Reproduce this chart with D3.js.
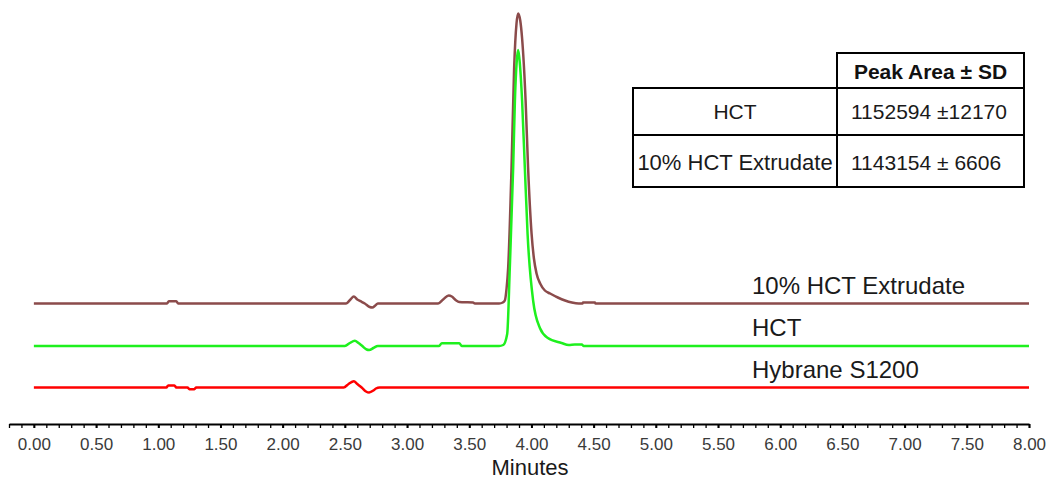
<!DOCTYPE html>
<html lang="en">
<head>
	<meta charset="UTF-8"/>
	<title>HPLC Chromatogram - HCT</title>
	<script src="https://d3js.org/d3.v7.min.js"></script>
	<style>
		body { margin:0; background:#fff; }
		text { font-family: "Liberation Sans", Arial, sans-serif; }
	</style>
</head>
<body>
<script>

	var w = 1048;
	var h = 482;

	//-------------data: [minutes, signal above own baseline]-------------
	var extrudate = [
		[0,0],[1.07,0],[1.085,2.3],[1.145,2.3],[1.16,0],
		[2.51,0],[2.545,4],[2.572,7],[2.60,4],[2.625,2.3],[2.66,0],[2.70,-3.5],[2.72,-4],[2.745,-2],[2.765,0],
		[3.25,0],[3.29,4],[3.335,8],[3.36,7],[3.395,3],[3.42,1.5],[3.45,1.3],[3.53,1],[3.545,0],
		[3.74,0],[3.77,1],[3.786,3],[3.80,15],[3.813,36],[3.84,136],[3.861,236],[3.88,280],[3.893,290],
		[3.91,283],[3.925,265],[3.953,203],[3.973,136],[4.001,70],[4.02,45],[4.041,30],[4.07,20],
		[4.108,13],[4.15,10],[4.212,6],[4.27,3],[4.325,1],[4.38,0],[4.41,0],[4.415,1],[4.51,1],[4.515,0],
		[8,0]
	];
	var hct = [
		[0,0],[2.50,0],[2.54,3],[2.58,5.3],[2.61,3],[2.64,0],[2.675,-3.5],[2.695,-4],[2.73,-2],[2.765,0],
		[3.255,0],[3.28,2.7],[3.42,2.7],[3.44,0],
		[3.74,0],[3.773,1],[3.805,12],[3.826,78],[3.853,178],[3.867,245],[3.882,285],[3.893,296],
		[3.905,285],[3.925,245],[3.947,178],[3.969,112],[4.014,45],[4.068,18],[4.132,8],[4.242,3],
		[4.30,1],[4.349,1.5],[4.405,1.5],[4.42,0],
		[8,0]
	];
	var hybrane = [
		[0,0],[1.065,0],[1.08,2],[1.13,2],[1.145,0],[1.235,0],[1.25,-1.7],[1.29,-1.7],[1.305,0],
		[2.49,0],[2.53,3.5],[2.572,6.3],[2.60,3.5],[2.635,0],[2.67,-4],[2.695,-5],[2.73,-3],[2.75,-1],[2.78,0],
		[8,0]
	];

	var seriesNames   = ["10% HCT Extrudate", "HCT", "Hybrane S1200"];
	var seriesData    = [extrudate, hct, hybrane];
	var seriesOffsets = [84, 41.5, 0];
	var seriesColors  = ["#8b4b4b", "#1ef01e", "#ff0000"];

	var majorTicks = [0,0.5,1,1.5,2,2.5,3,3.5,4,4.5,5,5.5,6,6.5,7,7.5,8];

	var tableHeader = "Peak Area \u00b1 SD";
	var tableNames  = ["HCT", "10% HCT Extrudate"];
	var tableValues = ["1152594 \u00b112170", "1143154 \u00b1 6606"];

	//-------------scales-------------
	var xScale = d3.scaleLinear()
				.domain([-0.2, 8])
				.range([9, 1029]);

	var yScale = d3.scaleLinear()
				.domain([0, 380])
				.range([387.5, 7.5]);

	var svg = d3.select("body")
				.append("svg")
				.attr("width", w)
				.attr("height", h);

	//-------------traces-------------
	seriesData.forEach(function(data, k){
		var line = d3.line()
			.x(function(d){ return xScale(d[0]); })
			.y(function(d){ return yScale(d[1] + seriesOffsets[k]); })
			.curve(d3.curveMonotoneX);

		svg.append("path")
			.datum(data)
			.attr("d", line)
			.attr("fill", "none")
			.attr("stroke", seriesColors[k])
			.attr("stroke-width", 2.5)
			.attr("stroke-linejoin", "round");

		svg.append("text")
			.attr("x", 752)
			.attr("y", yScale(seriesOffsets[k]) - 10)
			.attr("font-size", 24)
			.attr("fill", "#1a1a1a")
			.text(seriesNames[k]);
	});

	//-------------x axis-------------
	var axisY = 424;

	var minorAxis = d3.axisBottom(xScale)
			.tickValues(d3.range(-2, 81).map(function(i){ return i / 10; }))
			.tickSize(4)
			.tickSizeOuter(0)
			.tickFormat("");

	svg.append("g")
		.attr("transform", "translate(0," + axisY + ")")
		.call(minorAxis)
		.call(function(g){
			g.select(".domain").attr("stroke", "#000").attr("stroke-width", 2);
			g.selectAll(".tick line").attr("stroke", "#000").attr("stroke-width", 1.3);
		});

	var majorAxis = d3.axisBottom(xScale)
			.tickValues(majorTicks)
			.tickSize(4)
			.tickPadding(10)
			.tickFormat(d3.format(".2f"));

	svg.append("g")
		.attr("transform", "translate(0," + axisY + ")")
		.call(majorAxis)
		.call(function(g){
			g.select(".domain").remove();
			g.selectAll(".tick line").attr("stroke", "#000").attr("stroke-width", 2);
			g.selectAll(".tick text")
				.attr("font-size", 17)
				.attr("font-family", "Liberation Sans, Arial, sans-serif")
				.attr("fill", "#3a3a3a");
		});

	svg.append("text")
		.attr("x", 530)
		.attr("y", 475)
		.attr("text-anchor", "middle")
		.attr("font-size", 22)
		.attr("fill", "#1a1a1a")
		.text("Minutes");

	//-------------peak area table-------------
	var colX  = [633, 837, 1024];
	var rowY  = [53, 88, 135, 187];
	var table = svg.append("g")
		.attr("fill", "none")
		.attr("stroke", "#000")
		.attr("stroke-width", 2);

	// header cell (right column only)
	table.append("rect")
		.attr("x", colX[1]).attr("y", rowY[0])
		.attr("width", colX[2] - colX[1]).attr("height", rowY[1] - rowY[0]);
	// body
	table.append("rect")
		.attr("x", colX[0]).attr("y", rowY[1])
		.attr("width", colX[2] - colX[0]).attr("height", rowY[3] - rowY[1]);
	table.append("line")
		.attr("x1", colX[0]).attr("x2", colX[2])
		.attr("y1", rowY[2]).attr("y2", rowY[2]);
	table.append("line")
		.attr("x1", colX[1]).attr("x2", colX[1])
		.attr("y1", rowY[1]).attr("y2", rowY[3]);

	svg.append("text")
		.attr("x", (colX[1] + colX[2]) / 2)
		.attr("y", 79)
		.attr("text-anchor", "middle")
		.attr("font-size", 21)
		.attr("font-weight", "bold")
		.attr("fill", "#111")
		.text(tableHeader);

	var rowBase = [118.5, 170];
	tableNames.forEach(function(name, i){
		svg.append("text")
			.attr("x", (colX[0] + colX[1]) / 2)
			.attr("y", rowBase[i])
			.attr("text-anchor", "middle")
			.attr("font-size", i == 0 ? 21 : 22)
			.attr("fill", "#1a1a1a")
			.text(name);
		svg.append("text")
			.attr("x", 851)
			.attr("y", rowBase[i])
			.attr("font-size", 21)
			.attr("fill", "#1a1a1a")
			.text(tableValues[i]);
	});

</script>
</body>
</html>
